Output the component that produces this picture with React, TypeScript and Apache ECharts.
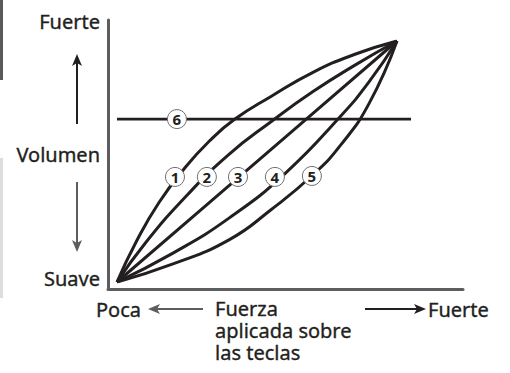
import React, { useEffect, useRef } from "react";
import * as echarts from "echarts";

// Curve points: [force, volume] in 0..1 units
const curve1 = [[0, 0], [0.07, 0.17], [0.15, 0.33], [0.24, 0.47], [0.33, 0.585], [0.42, 0.675], [0.55, 0.77], [0.7, 0.87], [0.85, 0.945], [1, 1]];
const curve2 = [[0, 0], [0.1, 0.16], [0.25, 0.36], [0.4, 0.53], [0.55, 0.665], [0.7, 0.79], [0.85, 0.9], [1, 1]];
const curve3 = [[0, 0], [0.34, 0.34], [0.676, 0.676], [1, 1]];
const curve4 = [[0, 0], [0.2, 0.12], [0.4, 0.265], [0.6, 0.45], [0.8, 0.69], [0.9, 0.83], [1, 1]];
const curve5 = [[0, 0], [0.2, 0.075], [0.4, 0.175], [0.55, 0.3], [0.7, 0.445], [0.8, 0.57], [0.9, 0.74], [1, 1]];
const curve6 = [[0, 0.676], [1.05, 0.676]];
const curves = [curve1, curve2, curve3, curve4, curve5, curve6];

// Circled number markers: [x, y, label]
const markers = [
  [0.207, 0.436, "1"],
  [0.321, 0.436, "2"],
  [0.432, 0.436, "3"],
  [0.564, 0.436, "4"],
  [0.696, 0.44, "5"],
  [0.214, 0.676, "6"],
];

const yLabels = ["Fuerte", "Volumen", "Suave"];
const xLabels = ["Poca", "Fuerza", "aplicada sobre", "las teclas", "Fuerte"];

const FONT = "Noto Sans";
const INK = "#231f20";
const GRAY = "#5d5d5f";

function arrowHead(tipX: number, tipY: number, dir: "up" | "down" | "left" | "right", color: string) {
  const L = 12, W = 5, N = 3;
  let pts: number[][] = [];
  if (dir === "up") pts = [[tipX, tipY], [tipX + W, tipY + L], [tipX, tipY + L - N], [tipX - W, tipY + L]];
  if (dir === "down") pts = [[tipX, tipY], [tipX + W, tipY - L], [tipX, tipY - L + N], [tipX - W, tipY - L]];
  if (dir === "left") pts = [[tipX, tipY], [tipX + L, tipY - W], [tipX + L - N, tipY], [tipX + L, tipY + W]];
  if (dir === "right") pts = [[tipX, tipY], [tipX - L, tipY - W], [tipX - L + N, tipY], [tipX - L, tipY + W]];
  return { type: "polygon", shape: { points: pts }, style: { fill: color }, z: 10 };
}

export default function App() {
  const ref = useRef<HTMLDivElement>(null);
  useEffect(() => {
    if (!ref.current) return;
    const chart = echarts.init(ref.current, null, { renderer: "svg" });
    const textStyle = (extra: any) => ({
      fontFamily: FONT, fontSize: 20, fill: INK, stroke: INK, lineWidth: 0.35, ...extra,
    });
    const txt = (x: number, y: number, text: string, align: string) => ({
      type: "text", x, y, style: textStyle({ text, align, verticalAlign: "middle" }),
    });
    chart.setOption({
      animation: false,
      backgroundColor: "#ffffff",
      grid: [
        { left: 117, top: 41, right: 85, bottom: 91 },
        { left: 108, top: 20, right: 47, bottom: 84 },
      ],
      xAxis: [
        { type: "value", gridIndex: 0, min: 0, max: 1.1, show: false },
        {
          type: "value", gridIndex: 1, min: 0, max: 1,
          axisLine: { show: true, onZero: false, lineStyle: { color: GRAY, width: 3, cap: "round" } },
          axisTick: { show: false }, axisLabel: { show: false }, splitLine: { show: false },
        },
      ],
      yAxis: [
        { type: "value", gridIndex: 0, min: 0, max: 1, show: false },
        {
          type: "value", gridIndex: 1, min: 0, max: 1,
          axisLine: { show: true, onZero: false, lineStyle: { color: GRAY, width: 3, cap: "round" } },
          axisTick: { show: false }, axisLabel: { show: false }, splitLine: { show: false },
        },
      ],
      series: [
        ...curves.map((c, i) => ({
          type: "line",
          xAxisIndex: 0,
          yAxisIndex: 0,
          data: c,
          smooth: i === 2 || i === 5 ? false : 0.5,
          showSymbol: false,
          lineStyle: { color: INK, width: i === 5 ? 2.6 : 3 },
          z: 2,
        })),
        {
          type: "scatter",
          xAxisIndex: 0,
          yAxisIndex: 0,
          data: markers,
          symbol: "circle",
          symbolSize: 19,
          itemStyle: { color: "#ffffff", borderColor: "#6d6e70", borderWidth: 1, opacity: 1 },
          label: {
            show: true,
            position: "inside",
            formatter: (p: any) => p.value[2],
            fontFamily: FONT,
            fontSize: 15,
            fontWeight: "bold",
            color: INK,
          },
          z: 5,
        },
      ],
      graphic: [
        { type: "rect", shape: { x: 0, y: 0, width: 3, height: 80 }, style: { fill: "#58595b" } },
        { type: "rect", shape: { x: 0, y: 158, width: 3, height: 140 }, style: { fill: "#dcdddf" } },
        txt(100, 21, yLabels[0], "right"),
        txt(100, 154, yLabels[1], "right"),
        txt(100, 278, yLabels[2], "right"),
        txt(96, 309, xLabels[0], "left"),
        txt(215, 308, xLabels[1], "left"),
        txt(215, 330, xLabels[2], "left"),
        txt(215, 352, xLabels[3], "left"),
        txt(428, 309, xLabels[4], "left"),
        // up arrow
        { type: "line", shape: { x1: 77, y1: 124, x2: 77, y2: 62 }, style: { stroke: INK, lineWidth: 2 } },
        arrowHead(77, 54, "up", INK),
        // down arrow
        { type: "line", shape: { x1: 77, y1: 182, x2: 77, y2: 244 }, style: { stroke: GRAY, lineWidth: 2 } },
        arrowHead(77, 252, "down", GRAY),
        // left arrow
        { type: "line", shape: { x1: 203, y1: 309, x2: 156, y2: 309 }, style: { stroke: GRAY, lineWidth: 2 } },
        arrowHead(148, 309, "left", GRAY),
        // right arrow
        { type: "line", shape: { x1: 365, y1: 309, x2: 418, y2: 309 }, style: { stroke: INK, lineWidth: 2 } },
        arrowHead(426, 309, "right", INK),
      ],
    });
    return () => chart.dispose();
  }, []);
  return <div ref={ref} style={{ position: "fixed", left: 0, top: 0, width: 510, height: 373 }} />;
}
